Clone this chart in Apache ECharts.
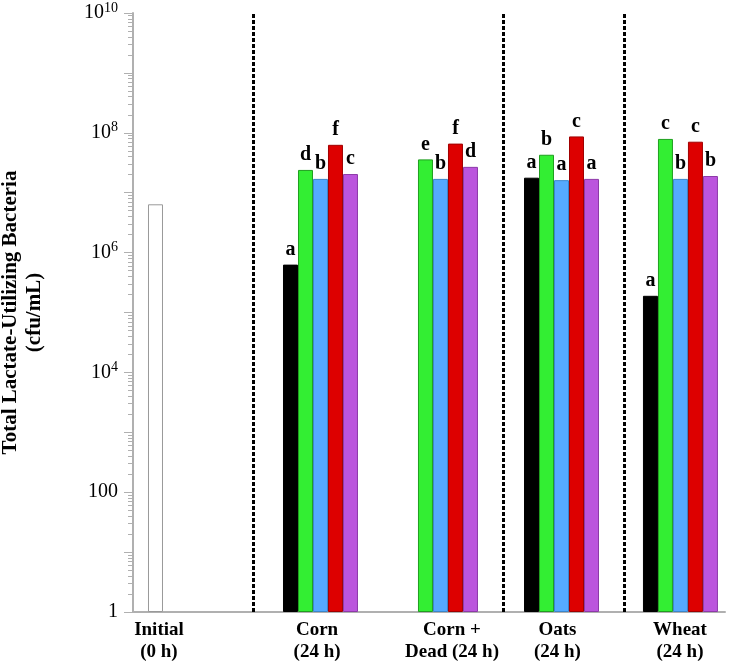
<!DOCTYPE html>
<html><head><meta charset="utf-8">
<script src="https://cdn.jsdelivr.net/npm/echarts@6/dist/echarts.min.js"></script>
<style>html,body{margin:0;padding:0;background:#fff}#c{width:734px;height:663px}</style>
</head><body><div id="c"></div>
<script>
// ---- data ----
const categories = ['Initial\n(0 h)', 'Corn\n(24 h)', 'Corn +\nDead (24 h)', 'Oats\n(24 h)', 'Wheat\n(24 h)'];
const initialValues = [6.4e6];
const treatmentGroups = ['Corn', 'Corn + Dead', 'Oats', 'Wheat'];
const seriesBlack  = [6.3e5, null, 1.78e7, 1.9e5];
const seriesGreen  = [2.4e7, 3.6e7, 4.3e7, 7.9e7];
const seriesBlue   = [1.7e7, 1.7e7, 1.62e7, 1.7e7];
const seriesRed    = [6.3e7, 6.6e7, 8.7e7, 7.1e7];
const seriesPurple = [2.05e7, 2.7e7, 1.7e7, 1.9e7];
const lettersBlack  = ['a', null, 'a', 'a'];
const lettersGreen  = ['d', 'e', 'b', 'c'];
const lettersBlue   = ['b', 'b', 'a', 'b'];
const lettersRed    = ['f', 'f', 'c', 'c'];
const lettersPurple = ['c', 'd', 'a', 'b'];
const yTickExponents = [0, 2, 4, 6, 8, 10];

// ---- layout (x axis in bar-width units) ----
const initialCenter = 1.5;
const groupCenters = [12.5, 20.5, 28.57, 36.5];
const labelPositions = [1.73, 12.27, 21.27, 28.3, 36.47];
const separators = [8.0, 24.67, 32.73];
const xMax = 39.47;
const FONT = "'Liberation Serif','Times New Roman',serif";
const AXIS_GREY = '#b0b0b0';

const colorDefs = [
  {vals: seriesBlack, letters: lettersBlack, color: '#000000', border: '#000000'},
  {vals: seriesGreen, letters: lettersGreen, color: '#33ee33', border: '#1f9f1f'},
  {vals: seriesBlue, letters: lettersBlue, color: '#55aaff', border: '#3a86cc'},
  {vals: seriesRed, letters: lettersRed, color: '#dd0000', border: '#a00000'},
  {vals: seriesPurple, letters: lettersPurple, color: '#bb55dd', border: '#8d3aa8'}
];

const labelStyle = {show: true, position: 'top', distance: 5, fontFamily: FONT, fontWeight: 'bold', fontSize: 20, color: '#000',
  formatter: p => p.data.letter || ''};

const series = [];
series.push({
  type: 'bar', name: 'Initial', xAxisIndex: 0, yAxisIndex: 0, barWidth: 15, barGap: '-100%',
  itemStyle: {color: '#ffffff', borderColor: '#999999', borderWidth: 1},
  data: initialValues.map(v => ({value: [initialCenter, v]})),
  markLine: {
    silent: true, symbol: 'none', label: {show: false},
    lineStyle: {color: '#000', width: 3, type: [4, 2]},
    data: separators.map(x => ({xAxis: x}))
  }
});
colorDefs.forEach((d, j) => {
  const data = [];
  d.vals.forEach((v, i) => {
    if (v == null) return;
    data.push({value: [groupCenters[i] + (j - 2), v], letter: d.letters[i]});
  });
  series.push({
    type: 'bar', name: 'S' + (j + 1), xAxisIndex: 0, yAxisIndex: 0, barWidth: 15, barGap: '-100%',
    itemStyle: {color: d.color, borderColor: d.border, borderWidth: 1},
    label: labelStyle, data: data
  });
});

// minor tick positions (decoration axis in exponent space, same pixel mapping as log axis)
const minorTicks = [];
for (let e = 0; e < 10; e++) for (let k = 2; k <= 9; k++) minorTicks.push(e + Math.log10(k));

const chart = echarts.init(document.getElementById('c'), null, {renderer: 'canvas'});
chart.setOption({
  animation: false,
  backgroundColor: '#ffffff',
  grid: {left: 133, right: 9, top: 13, bottom: 51, containLabel: false, outerBoundsMode: 'none'},
  xAxis: {
    type: 'value', min: 0, max: xMax,
    axisLine: {show: true, onZero: false, lineStyle: {color: AXIS_GREY, width: 2}},
    axisTick: {show: false}, splitLine: {show: false},
    axisLabel: {
      customValues: labelPositions, margin: 7,
      fontFamily: FONT, fontWeight: 'bold', fontSize: 19, lineHeight: 22, color: '#000',
      formatter: v => {
        let best = 0;
        labelPositions.forEach((p, i) => { if (Math.abs(p - v) < Math.abs(labelPositions[best] - v)) best = i; });
        return categories[best];
      }
    }
  },
  yAxis: [{
    type: 'log', logBase: 10, min: 1, max: 1e10,
    name: 'Total Lactate-Utilizing Bacteria\n(cfu/mL)', nameLocation: 'middle', nameGap: 86,
    nameTextStyle: {fontFamily: FONT, fontWeight: 'bold', fontSize: 21, lineHeight: 24, color: '#000'},
    axisLine: {show: true, lineStyle: {color: AXIS_GREY, width: 2}},
    axisTick: {show: false}, axisLabel: {show: false}, splitLine: {show: false}
  }, {
    type: 'value', min: 0, max: 10, interval: 1, position: 'left',
    axisLine: {show: false}, splitLine: {show: false},
    axisTick: {show: true, length: 9, interval: 0, lineStyle: {color: AXIS_GREY, width: 1}},
    axisLabel: {
      interval: 0, margin: 15, color: '#000', fontFamily: FONT, fontSize: 20,
      formatter: v => {
        const e = Math.round(v);
        if (yTickExponents.indexOf(e) < 0) return '';
        if (e === 0) return '1';
        if (e === 2) return '100';
        return '{b|10}{s|' + e + '}';
      },
      rich: {
        b: {fontFamily: FONT, fontSize: 20, lineHeight: 24, color: '#000'},
        s: {fontFamily: FONT, fontSize: 14, lineHeight: 12, verticalAlign: 'top', color: '#000'}
      }
    }
  }, {
    type: 'value', min: 0, max: 10, position: 'left',
    axisLine: {show: false}, axisLabel: {show: false}, splitLine: {show: false},
    axisTick: {show: true, length: 5, customValues: minorTicks, lineStyle: {color: AXIS_GREY, width: 1}}
  }],
  series: series
});
</script>
</body></html>
